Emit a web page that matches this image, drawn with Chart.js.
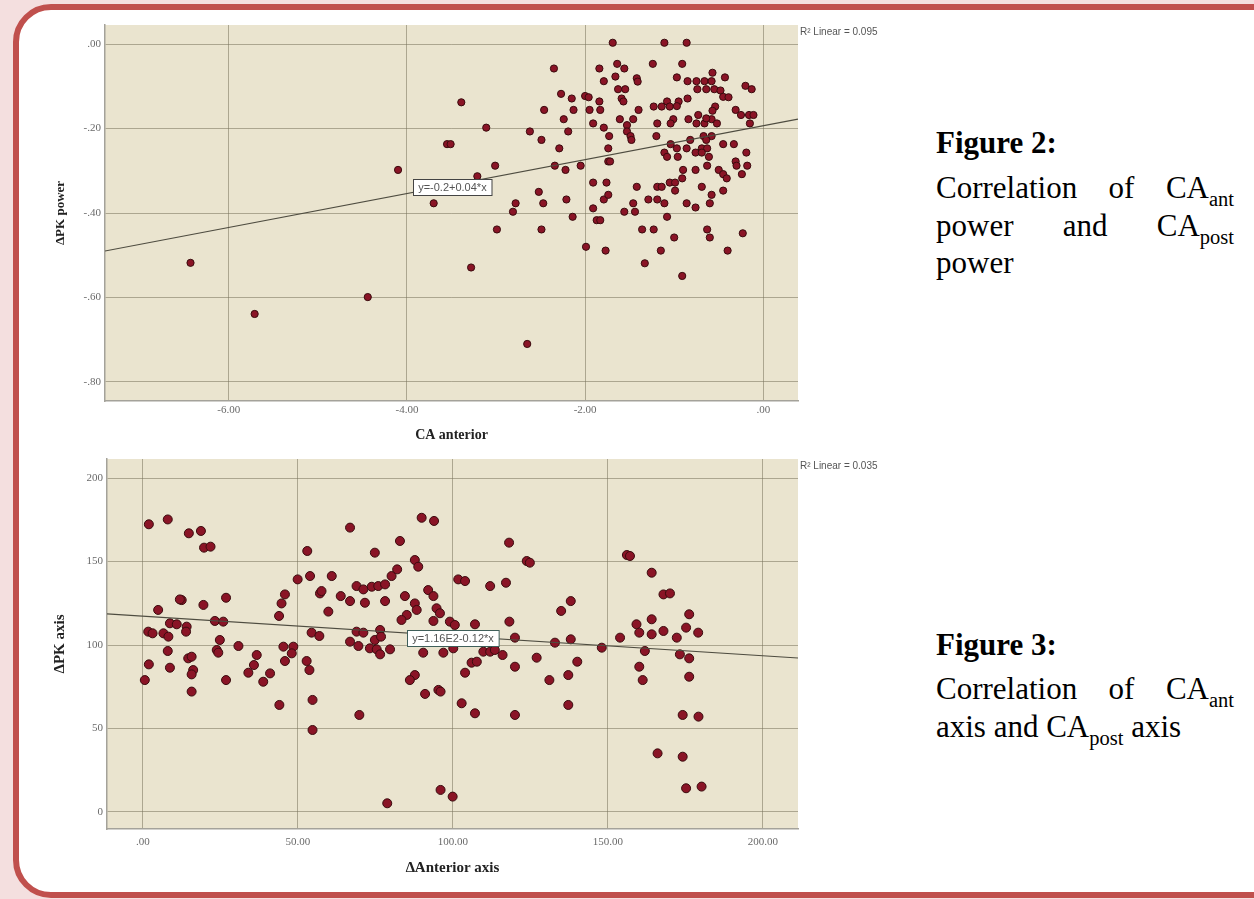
<!DOCTYPE html>
<html><head><meta charset="utf-8">
<script src="https://cdn.jsdelivr.net/npm/chart.js@4.4.0/dist/chart.umd.min.js"></script>
<style>
html,body{margin:0;padding:0;width:1254px;height:899px;overflow:hidden;background:#f4dfdf;}
#frame{position:absolute;left:13px;top:4px;width:1300px;height:894px;box-sizing:border-box;border:6px solid #c0504d;border-radius:38px;background:#fff;}
canvas{position:absolute;}
#c1{left:20px;top:10px;width:880px;height:440px;}
#c2{left:20px;top:445px;width:880px;height:440px;}
.cap{position:absolute;left:936px;width:298px;font-family:'Liberation Serif','Times New Roman',serif;font-size:31px;line-height:38.5px;color:#000;}
.j{text-align:justify;text-align-last:justify;}
.b{font-weight:bold;}
sub{font-size:20.5px;vertical-align:-8px;line-height:0;}
</style></head><body>
<div id="frame"></div>
<canvas id="c1" width="880" height="440"></canvas>
<canvas id="c2" width="880" height="440"></canvas>
<div class="cap b" style="top:124.3px">Figure 2:</div>
<div class="cap j" style="top:169.3px">Correlation of CA<sub>ant</sub></div>
<div class="cap j" style="top:207.3px">power and CA<sub>post</sub></div>
<div class="cap" style="top:244.3px">power</div>
<div class="cap b" style="top:626.3px">Figure 3:</div>
<div class="cap j" style="top:670.3px">Correlation of CA<sub>ant</sub></div>
<div class="cap" style="top:708.3px">axis and CA<sub>post</sub> axis</div>
<script>
// ---------- Figure 2 data: CA anterior vs ΔPK power ----------
const caAnterior = [
 -1.69,-1.11,-0.86,-2.35,-1.84,-1.64,-1.56,-1.24,-0.91,-0.57,
 -0.43,-1.79,-1.66,-1.42,-1.41,-0.97,-0.85,-0.75,-0.66,-0.58,
 -1.63,-1.55,-0.74,-0.64,-0.55,-0.48,-0.20,-0.13,-2.27,-2.15,
 -2.00,-1.96,-1.84,-1.59,-1.57,-1.08,-0.95,-0.85,-0.45,-0.39,
 -3.39,-2.46,-2.13,-1.95,-1.83,-1.40,-1.23,-1.14,-1.05,-0.97,
 -0.54,-0.57,-0.31,-0.25,-0.16,-0.11,-2.24,-1.91,-1.79,-1.61,
 -1.53,-1.46,-1.19,-1.01,-1.04,-0.84,-0.75,-0.66,-0.58,-0.52,
 -0.15,-0.73,-0.64,-3.11,-2.62,-2.49,-2.19,-1.73,-1.53,-1.49,
 -1.48,-1.20,-0.67,-0.58,-0.64,-0.82,-3.55,-3.51,-2.29,-1.74,
 -1.04,-0.97,-0.86,-0.69,-0.63,-0.45,-0.33,-1.11,-1.08,-0.96,
 -0.76,-0.69,-0.61,-0.19,-2.34,-3.01,-2.22,-2.05,-1.74,-1.72,
 -0.90,-0.76,-0.63,-0.31,-0.30,-0.18,-0.50,-0.45,-0.24,-1.91,
 -1.76,-1.42,-1.19,-1.14,-1.05,-0.99,-0.91,-0.69,-0.41,-2.52,
 -1.79,-1.74,-2.21,-0.99,-1.29,-1.19,-1.11,-0.58,-0.60,-0.45,
 -2.78,-2.47,-1.46,-0.86,-0.76,-2.81,-1.91,-1.56,-1.44,-2.14,
 -1.87,-1.83,-1.08,-2.99,-2.49,-1.36,-1.23,-0.63,-0.60,-0.23,
 -1.00,-1.99,-1.77,-1.15,-0.40,-3.28,-1.33,-0.91,-6.43,-5.71,
 -4.44,-4.10,-3.70,-3.21,-2.65
];
const pkPower = [
 0.003,0.003,0.003,-0.058,-0.058,-0.047,-0.058,-0.047,-0.047,-0.068,
 -0.079,-0.088,-0.077,-0.081,-0.089,-0.079,-0.088,-0.088,-0.088,-0.088,
 -0.107,-0.107,-0.107,-0.107,-0.107,-0.110,-0.099,-0.107,-0.118,-0.129,
 -0.123,-0.126,-0.136,-0.129,-0.136,-0.136,-0.136,-0.129,-0.125,-0.126,
 -0.138,-0.156,-0.156,-0.156,-0.156,-0.156,-0.148,-0.148,-0.148,-0.147,
 -0.148,-0.158,-0.156,-0.168,-0.168,-0.168,-0.178,-0.188,-0.198,-0.178,
 -0.192,-0.178,-0.188,-0.178,-0.188,-0.178,-0.188,-0.188,-0.178,-0.188,
 -0.188,-0.168,-0.176,-0.198,-0.207,-0.227,-0.207,-0.218,-0.207,-0.218,
 -0.227,-0.218,-0.218,-0.218,-0.227,-0.227,-0.237,-0.237,-0.247,-0.247,
 -0.237,-0.247,-0.247,-0.247,-0.247,-0.237,-0.237,-0.257,-0.267,-0.267,
 -0.257,-0.257,-0.267,-0.257,-0.288,-0.288,-0.298,-0.288,-0.278,-0.278,
 -0.298,-0.298,-0.288,-0.278,-0.288,-0.288,-0.298,-0.308,-0.308,-0.328,
 -0.328,-0.338,-0.338,-0.338,-0.328,-0.328,-0.318,-0.338,-0.318,-0.350,
 -0.368,-0.357,-0.368,-0.347,-0.368,-0.368,-0.377,-0.357,-0.377,-0.347,
 -0.377,-0.377,-0.377,-0.377,-0.387,-0.397,-0.389,-0.397,-0.397,-0.409,
 -0.417,-0.417,-0.409,-0.439,-0.439,-0.439,-0.439,-0.439,-0.458,-0.448,
 -0.458,-0.480,-0.489,-0.489,-0.489,-0.529,-0.519,-0.549,-0.518,-0.639,
 -0.599,-0.298,-0.377,-0.313,-0.710
];
const powerFitX = [-7.39, 0.39];
const powerFitY = [-0.490, -0.178];
const powerFitLabel = 'y=-0.2+0.04*x';
const powerR2Label = 'R² Linear = 0.095';
const powerXTicks = [-6, -4, -2, 0];
const powerXTickLabels = ['-6.00', '-4.00', '-2.00', '.00'];
const powerYTicks = [0, -0.2, -0.4, -0.6, -0.8];
const powerYTickLabels = ['.00', '-.20', '-.40', '-.60', '-.80'];

// ---------- Figure 3 data: ∆Anterior axis vs ΔPK axis ----------
const axisAnterior = [
 1.9,8.0,14.8,18.7,19.7,21.8,4.9,12.5,11.9,19.5,
 26.8,1.7,3.1,6.6,8.2,8.7,10.9,14.1,13.9,23.2,
 25.9,24.8,30.8,23.8,24.3,8.0,1.9,8.7,14.6,15.7,
 16.2,15.7,34.0,36.7,35.8,41.0,53.0,53.9,49.9,45.8,
 44.7,43.9,57.1,57.6,60.9,59.8,63.8,66.8,66.8,68.9,
 71.1,71.6,68.9,71.1,74.8,73.8,75.9,78.1,80.2,82.0,
 82.9,78.1,54.4,56.9,45.3,48.5,48.0,45.8,52.8,53.7,
 66.8,69.5,73.2,74.8,76.5,76.8,75.4,76.5,79.7,0.6,
 15.7,26.8,38.8,44.0,54.7,54.7,69.8,78.8,89.9,93.9,
 87.7,88.8,118.1,123.8,124.8,101.7,103.9,112.0,117.1,92.0,
 93.7,84.5,87.7,88.3,85.1,83.4,94.7,95.8,93.7,99.0,
 100.6,107.1,118.2,120.0,132.9,138.0,138.0,134.9,148.0,153.9,
 156.1,157.1,164.1,167.9,170.0,159.2,164.1,160.1,164.1,167.9,
 172.2,175.2,176.2,179.1,161.9,173.2,176.2,160.1,176.2,90.4,
 96.9,100.1,106.0,107.7,109.8,112.0,113.5,116.0,120.0,127.0,
 137.2,140.1,103.9,87.7,86.1,91.0,95.3,96.0,102.8,107.1,
 120.0,131.1,137.2,161.2,174.1,179.2,166.0,174.1,175.2,180.2,
 96.0,99.9
];
const axisPK = [
 172.3,175.2,166.9,168.3,158.3,158.9,121.0,126.9,127.3,124.0,
 128.3,108.0,107.0,107.0,105.0,113.0,112.4,111.0,108.0,114.4,
 114.0,103.0,99.4,97.0,95.4,96.4,88.4,86.4,92.0,93.0,
 85.0,82.4,83.4,94.0,88.0,83.0,156.3,141.3,139.3,130.3,
 124.9,117.4,130.9,132.3,141.3,120.0,129.3,126.3,170.3,135.3,
 133.3,125.3,108.0,107.4,155.3,134.9,135.3,136.3,141.3,145.3,
 162.3,126.3,107.4,105.4,99.0,99.0,95.0,90.4,90.4,85.0,
 102.0,99.4,98.0,103.0,109.0,105.0,97.4,94.4,97.4,79.0,
 72.1,79.0,78.0,64.1,67.1,49.1,58.1,5.2,176.2,174.3,
 150.9,146.9,161.3,150.3,149.3,139.3,138.3,135.3,137.3,132.9,
 129.3,129.3,124.9,121.0,118.0,115.0,122.0,119.0,114.4,114.0,
 112.0,112.4,114.0,104.4,101.4,103.4,126.3,120.4,98.4,104.4,
 153.9,153.3,143.3,130.3,130.9,112.4,115.4,107.4,106.4,108.4,
 104.4,110.4,118.4,107.4,96.4,94.4,92.0,87.0,81.0,95.4,
 95.4,98.0,89.4,90.0,96.0,96.0,97.0,94.0,87.0,92.4,
 82.0,90.0,83.4,82.0,79.0,70.7,73.1,72.1,65.1,59.1,
 58.1,79.0,64.1,79.0,58.1,57.1,35.1,33.1,14.2,15.2,
 13.2,9.2
];
const axisFitX = [-11.6, 211.3];
const axisFitY = [118.6, 92.2];
const axisFitLabel = 'y=1.16E2-0.12*x';
const axisR2Label = 'R² Linear = 0.035';
const axisXTicks = [0, 50, 100, 150, 200];
const axisXTickLabels = ['.00', '50.00', '100.00', '150.00', '200.00'];
const axisYTicks = [0, 50, 100, 150, 200];
const axisYTickLabels = ['0', '50', '100', '150', '200'];

// ---------- rendering ----------
const SERIF = "'Liberation Serif','Times New Roman',serif";
const SANS = "'Liberation Sans',Arial,sans-serif";

const spssPlugin = {
  id: 'spss',
  beforeDraw(chart, args, o) {
    const a = chart.chartArea, ctx = chart.ctx;
    ctx.save();
    ctx.fillStyle = '#eae4cf';
    ctx.fillRect(a.left, a.top, a.right - a.left, a.bottom - a.top);
    ctx.restore();
  },
  afterDatasetsDraw(chart, args, o) {
    const a = chart.chartArea, ctx = chart.ctx;
    const xs = chart.scales.x, ys = chart.scales.y;
    const t = (o.labelAt - o.fitX[0]) / (o.fitX[1] - o.fitX[0]);
    const yv = o.fitY[0] + t * (o.fitY[1] - o.fitY[0]);
    const px = xs.getPixelForValue(o.labelAt), py = ys.getPixelForValue(yv) + o.labelDy;
    ctx.save();
    ctx.font = '11px ' + SANS;
    const w = ctx.measureText(o.label).width + 10, h = 16;
    ctx.fillStyle = '#ffffff';
    ctx.fillRect(Math.round(px - w / 2) + 0.5, Math.round(py - h / 2) + 0.5, w, h);
    ctx.strokeStyle = o.boxColor;
    ctx.lineWidth = 1;
    ctx.strokeRect(Math.round(px - w / 2) + 0.5, Math.round(py - h / 2) + 0.5, w, h);
    ctx.fillStyle = '#555';
    ctx.textAlign = 'center';
    ctx.textBaseline = 'middle';
    ctx.fillText(o.label, px, py + 1);
    ctx.font = '10px ' + SANS;
    ctx.textAlign = 'left';
    ctx.fillStyle = '#555';
    ctx.fillText(o.r2, a.right + 2, a.top + 7.5);
    ctx.restore();
  }
};

function makeChart(id, g) {
  return new Chart(document.getElementById(id), {
    type: 'scatter',
    data: {
      datasets: [
        {
          data: g.xs.map((x, i) => ({x: x, y: g.ys[i]})),
          pointRadius: g.radius,
          pointBackgroundColor: '#8a1426',
          pointBorderColor: '#3a0b0e',
          pointBorderWidth: 1,
          order: 2
        },
        {
          data: g.fitX.map((x, i) => ({x: x, y: g.fitY[i]})),
          showLine: true,
          borderColor: '#4e4c40',
          borderWidth: 1.2,
          pointRadius: 0,
          fill: false,
          order: 1
        }
      ]
    },
    options: {
      responsive: false,
      animation: false,
      events: [],
      layout: {padding: {top: g.padTop, right: 102, left: 0, bottom: 0}},
      plugins: {
        legend: {display: false},
        tooltip: {enabled: false},
        spss: {fitX: g.fitX, fitY: g.fitY, labelAt: g.labelAt, labelDy: g.labelDy, label: g.label, r2: g.r2, boxColor: g.boxColor}
      },
      scales: {
        x: {
          type: 'linear', min: g.xMin, max: g.xMax,
          afterFit(s) { s.height = g.xAxisH; },
          afterBuildTicks(s) { s.ticks = g.xTicks.map(v => ({value: v})); },
          ticks: {
            autoSkip: false, maxRotation: 0, padding: g.xTickPad,
            font: {family: SERIF, size: 11}, color: '#6a6a6a',
            callback: (v, i) => g.xLabels[i]
          },
          grid: {color: 'rgba(120,114,92,0.55)', lineWidth: 1, drawTicks: false},
          border: {display: true, color: '#a4a29a', width: 1.5},
          title: {
            display: true, text: g.xTitle, color: '#222',
            font: {family: SERIF, size: g.xTitleSize, weight: 'bold'},
            padding: {top: 0, bottom: g.xTitlePad}
          }
        },
        y: {
          type: 'linear', min: g.yMin, max: g.yMax,
          afterFit(s) { s.width = g.yAxisW; },
          afterBuildTicks(s) { s.ticks = g.yTicks.map(v => ({value: v})); },
          ticks: {
            autoSkip: false, padding: 4,
            font: {family: SERIF, size: 11}, color: '#6a6a6a',
            callback: (v, i) => g.yLabels[i]
          },
          grid: {color: 'rgba(120,114,92,0.55)', lineWidth: 1, drawTicks: false},
          border: {display: true, color: '#a4a29a', width: 1.5},
          title: {
            display: true, text: g.yTitle, color: '#222',
            font: {family: SERIF, size: g.yTitleSize, weight: 'bold'},
            padding: {top: g.yTitlePad, bottom: 0}
          }
        }
      }
    },
    plugins: [spssPlugin]
  });
}

makeChart('c1', {
  xs: caAnterior, ys: pkPower, radius: 3.6,
  fitX: powerFitX, fitY: powerFitY, labelAt: -3.49, labelDy: 2, label: powerFitLabel, r2: powerR2Label, boxColor: '#444',
  xMin: -7.39, xMax: 0.39, yMin: -0.845, yMax: 0.045,
  xTicks: powerXTicks, xLabels: powerXTickLabels, yTicks: powerYTicks, yLabels: powerYTickLabels,
  padTop: 15, xAxisH: 49, yAxisW: 85, xTickPad: 2.5,
  xTitle: 'CA anterior', xTitleSize: 14, xTitlePad: 6,
  yTitle: 'ΔPK power', yTitleSize: 13, yTitlePad: 33
});

makeChart('c2', {
  xs: axisAnterior, ys: axisPK, radius: 4.5,
  fitX: axisFitX, fitY: axisFitY, labelAt: 100, labelDy: 1.5, label: axisFitLabel, r2: axisR2Label, boxColor: '#3f5f5a',
  xMin: -11.6, xMax: 211.3, yMin: -10.2, yMax: 211.4,
  xTicks: axisXTicks, xLabels: axisXTickLabels, yTicks: axisYTicks, yLabels: axisYTickLabels,
  padTop: 14, xAxisH: 56, yAxisW: 87, xTickPad: 6.4,
  xTitle: '∆Anterior axis', xTitleSize: 15, xTitlePad: 7.5,
  yTitle: 'ΔPK axis', yTitleSize: 15, yTitlePad: 31.5
});
</script>
</body></html>
